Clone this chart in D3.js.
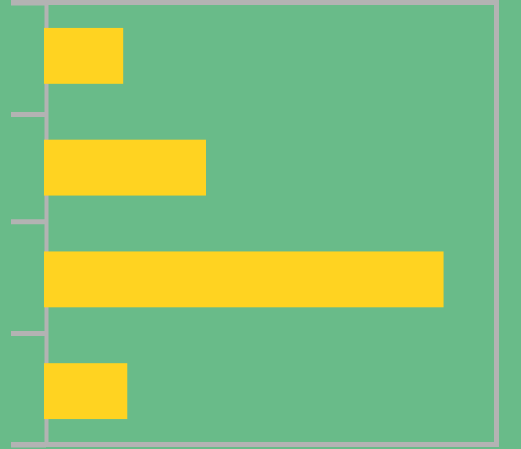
<!DOCTYPE html>
<html>
<head>
<meta charset="utf-8">
<script src="https://cdn.jsdelivr.net/npm/d3@7"></script>
<style>
  html, body { margin: 0; padding: 0; background: #69bb89; }
  svg { display: block; }
</style>
</head>
<body>
<div id="chart"></div>
<script>
// data
const categories = ['A', 'B', 'C', 'D'];
const values = [17.5, 35.8, 88.3, 18.4];
const yTicks = [0, 1.01, 1.98, 2.99, 4];

const width = 521;
const height = 449;
const grey = '#b3b3b3';
const plotLeft = 44, plotRight = 496.5, plotTop = 2.5, plotBottom = 444.5;

const svg = d3.select('#chart').append('svg')
  .attr('width', width)
  .attr('height', height);

svg.append('rect')
  .attr('width', width)
  .attr('height', height)
  .attr('fill', '#69bb89');

const x = d3.scaleLinear().domain([0, 100]).range([plotLeft, plotRight]);
const y = d3.scaleBand().domain(categories).range([0, 447]).paddingInner(0.5).paddingOuter(0.25);
const yTick = d3.scaleLinear().domain([0, 4]).range([plotTop, plotBottom]);

// frame: top, bottom, right
svg.append('line')
  .attr('x1', 11).attr('x2', 499)
  .attr('y1', plotTop).attr('y2', plotTop)
  .attr('stroke', grey).attr('stroke-width', 5);
svg.append('line')
  .attr('x1', 11).attr('x2', 499)
  .attr('y1', plotBottom).attr('y2', plotBottom)
  .attr('stroke', grey).attr('stroke-width', 5);
svg.append('line')
  .attr('x1', plotRight).attr('x2', plotRight)
  .attr('y1', 0).attr('y2', 447)
  .attr('stroke', grey).attr('stroke-width', 5);

// left axis
const axis = svg.append('g')
  .attr('transform', `translate(${plotLeft + 2},0)`)
  .call(d3.axisLeft(yTick).tickValues(yTicks).tickSize(35).tickSizeOuter(0).tickFormat(''));
axis.select('.domain').attr('stroke', grey).attr('stroke-width', 4);
axis.selectAll('.tick line').attr('stroke', grey).attr('stroke-width', 5);

// bars (over the axis line)
svg.selectAll('.bar')
  .data(categories)
  .enter().append('rect')
  .attr('class', 'bar')
  .attr('x', x(0))
  .attr('y', d => y(d))
  .attr('height', y.bandwidth())
  .attr('width', (d, i) => x(values[i]) - x(0))
  .attr('fill', '#ffd321');
</script>
</body>
</html>
